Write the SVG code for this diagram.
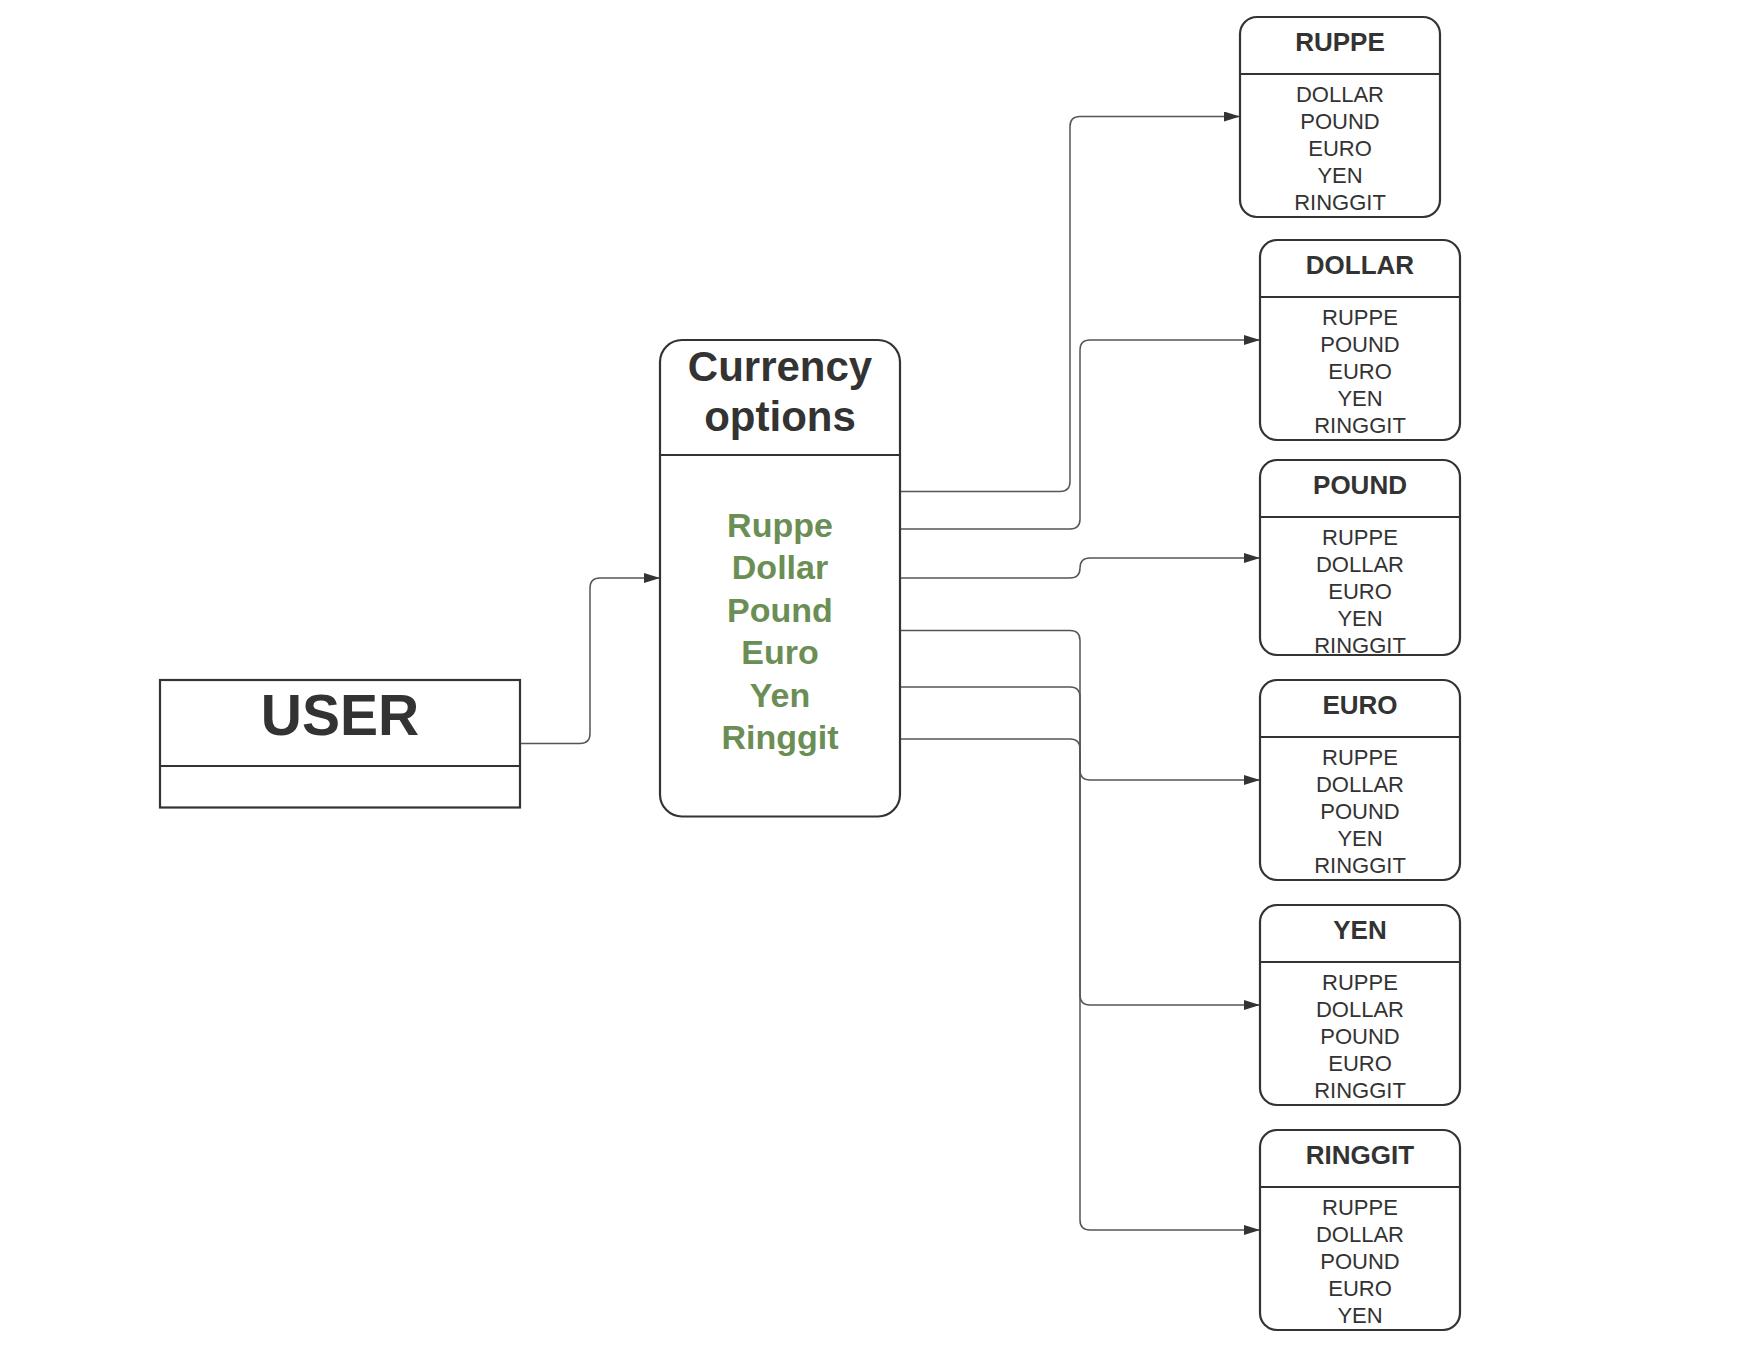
<svg xmlns="http://www.w3.org/2000/svg" width="1760" height="1360" viewBox="0 0 1760 1360">
<style>
.box{fill:#ffffff;stroke:#333333;stroke-width:2.2}
.div{stroke:#333333;stroke-width:2.2}
.hdr{font-family:"Liberation Sans",Arial,sans-serif;font-weight:bold;font-size:26px;fill:#333333;text-anchor:middle}
.item{font-family:"Liberation Sans",Arial,sans-serif;font-size:22px;fill:#333333;text-anchor:middle}
.big{font-family:"Liberation Sans",Arial,sans-serif;font-weight:bold;fill:#333333;text-anchor:middle}
.opt{font-family:"Liberation Sans",Arial,sans-serif;font-weight:bold;font-size:34px;fill:#6b8e55;text-anchor:middle}
.conn{fill:none;stroke:#555555;stroke-width:1.5}
</style>
<defs>
<marker id="arrow" viewBox="0 0 16 10" refX="16" refY="5" markerWidth="16" markerHeight="10" markerUnits="userSpaceOnUse" orient="auto">
<path d="M0,0 L16,5 L0,10 z" fill="#333333"/>
</marker>
</defs>
<rect width="1760" height="1360" fill="#ffffff"/>

<g id="connectors">
<path class="conn" marker-end="url(#arrow)" d="M520,743.5 H580 Q590,743.5 590,733.5 V588 Q590,578 600,578 H660"/>
<path class="conn" marker-end="url(#arrow)" d="M900,491.5 H1060 Q1070,491.5 1070,481.5 V126.5 Q1070,116.5 1080,116.5 H1240"/>
<path class="conn" marker-end="url(#arrow)" d="M900,529 H1070 Q1080,529 1080,519 V350 Q1080,340 1090,340 H1260"/>
<path class="conn" marker-end="url(#arrow)" d="M900,578 H1070 Q1080,578 1080,568 Q1080,558 1090,558 H1260"/>
<path class="conn" marker-end="url(#arrow)" d="M900,630.5 H1070 Q1080,630.5 1080,640.5 V770 Q1080,780 1090,780 H1260"/>
<path class="conn" marker-end="url(#arrow)" d="M900,687 H1070 Q1080,687 1080,697 V995 Q1080,1005 1090,1005 H1260"/>
<path class="conn" marker-end="url(#arrow)" d="M900,739 H1070 Q1080,739 1080,749 V1220 Q1080,1230 1090,1230 H1260"/>
</g>

<g id="user">
<rect class="box" x="160" y="680" width="360" height="127.5"/>
<line class="div" x1="160" y1="766" x2="520" y2="766"/>
<text class="big" x="340" y="735" font-size="57">USER</text>
</g>

<g id="currency-options">
<rect class="box" x="660" y="340" width="240" height="476.5" rx="22"/>
<line class="div" x1="660" y1="455" x2="900" y2="455"/>
<text class="big" x="780" y="381" font-size="42">Currency</text>
<text class="big" x="780" y="431" font-size="42">options</text>
<text class="opt" x="780" y="537">Ruppe</text>
<text class="opt" x="780" y="579.4">Dollar</text>
<text class="opt" x="780" y="621.8">Pound</text>
<text class="opt" x="780" y="664.2">Euro</text>
<text class="opt" x="780" y="706.6">Yen</text>
<text class="opt" x="780" y="749">Ringgit</text>
</g>

<g id="ruppe">
<rect class="box" x="1240" y="17" width="200" height="200" rx="17"/>
<line class="div" x1="1240" y1="74" x2="1440" y2="74"/>
<text class="hdr" x="1340" y="51">RUPPE</text>
<text class="item" x="1340" y="102">DOLLAR</text>
<text class="item" x="1340" y="129">POUND</text>
<text class="item" x="1340" y="156">EURO</text>
<text class="item" x="1340" y="183">YEN</text>
<text class="item" x="1340" y="209.5">RINGGIT</text>
</g>

<g id="dollar">
<rect class="box" x="1260" y="240" width="200" height="200" rx="17"/>
<line class="div" x1="1260" y1="297" x2="1460" y2="297"/>
<text class="hdr" x="1360" y="274">DOLLAR</text>
<text class="item" x="1360" y="325">RUPPE</text>
<text class="item" x="1360" y="352">POUND</text>
<text class="item" x="1360" y="379">EURO</text>
<text class="item" x="1360" y="406">YEN</text>
<text class="item" x="1360" y="432.5">RINGGIT</text>
</g>

<g id="pound">
<rect class="box" x="1260" y="460" width="200" height="195" rx="17"/>
<line class="div" x1="1260" y1="517" x2="1460" y2="517"/>
<text class="hdr" x="1360" y="494">POUND</text>
<text class="item" x="1360" y="545">RUPPE</text>
<text class="item" x="1360" y="572">DOLLAR</text>
<text class="item" x="1360" y="599">EURO</text>
<text class="item" x="1360" y="626">YEN</text>
<text class="item" x="1360" y="652.5">RINGGIT</text>
</g>

<g id="euro">
<rect class="box" x="1260" y="680" width="200" height="200" rx="17"/>
<line class="div" x1="1260" y1="737" x2="1460" y2="737"/>
<text class="hdr" x="1360" y="714">EURO</text>
<text class="item" x="1360" y="765">RUPPE</text>
<text class="item" x="1360" y="792">DOLLAR</text>
<text class="item" x="1360" y="819">POUND</text>
<text class="item" x="1360" y="846">YEN</text>
<text class="item" x="1360" y="872.5">RINGGIT</text>
</g>

<g id="yen">
<rect class="box" x="1260" y="905" width="200" height="200" rx="17"/>
<line class="div" x1="1260" y1="962" x2="1460" y2="962"/>
<text class="hdr" x="1360" y="939">YEN</text>
<text class="item" x="1360" y="990">RUPPE</text>
<text class="item" x="1360" y="1017">DOLLAR</text>
<text class="item" x="1360" y="1044">POUND</text>
<text class="item" x="1360" y="1071">EURO</text>
<text class="item" x="1360" y="1097.5">RINGGIT</text>
</g>

<g id="ringgit">
<rect class="box" x="1260" y="1130" width="200" height="200" rx="17"/>
<line class="div" x1="1260" y1="1187" x2="1460" y2="1187"/>
<text class="hdr" x="1360" y="1164">RINGGIT</text>
<text class="item" x="1360" y="1215">RUPPE</text>
<text class="item" x="1360" y="1242">DOLLAR</text>
<text class="item" x="1360" y="1269">POUND</text>
<text class="item" x="1360" y="1296">EURO</text>
<text class="item" x="1360" y="1322.5">YEN</text>
</g>
</svg>
